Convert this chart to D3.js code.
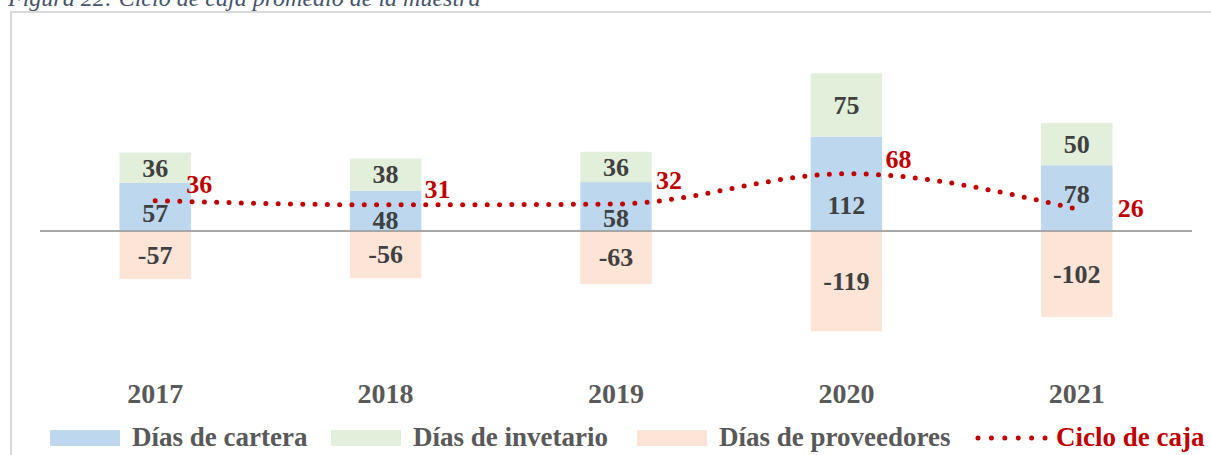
<!DOCTYPE html>
<html>
<head>
<meta charset="utf-8">
<script src="https://cdn.jsdelivr.net/npm/d3@7"></script>
<style>
  body { margin: 0; background: #fff; }
  svg { display: block; font-family: "Liberation Serif", "Times New Roman", serif; }
</style>
</head>
<body>
<script>
// datos
var years = ["2017", "2018", "2019", "2020", "2021"];
var cartera = [57, 48, 58, 112, 78];
var inventario = [36, 38, 36, 75, 50];
var proveedores = [-57, -56, -63, -119, -102];
var ciclo = [36, 31, 32, 68, 26];

var legendNames = ["Días de cartera", "Días de invetario", "Días de proveedores", "Ciclo de caja"];

// colores
var cBlue = "#BDD7EE", cGreen = "#E2EFDA", cPeach = "#FCE4D6", cRed = "#C00000";

var W = 1211, H = 455;

// pequeños ajustes manuales de las etiquetas (como en el original)
var carteraDy = [6, 9, 12, 21, -4];
var cicloLabelPos = [[31, -8], [39, -7], [40, -15], [39, -6], [41, 8]];

var svg = d3.select("body").append("svg")
    .attr("width", W)
    .attr("height", H);

// marco del grafico
svg.append("rect")
    .attr("x", 11).attr("y", 12)
    .attr("width", 1230).attr("height", 500)
    .attr("fill", "none")
    .attr("stroke", "#D9D9D9")
    .attr("stroke-width", 2);

// titulo (cortado arriba, igual que en la imagen)
svg.append("text")
    .attr("x", 8).attr("y", 6)
    .style("font-style", "italic")
    .style("font-size", "24px")
    .attr("fill", "#44546A")
    .text("Figura 22: Ciclo de caja promedio de la muestra");

var x = d3.scaleBand()
    .domain(years)
    .range([40, 1192])
    .paddingInner(0.69)
    .paddingOuter(0.345);

var y = d3.scaleLinear()
    .domain([-150, 200])
    .range([231 + 150 * 0.843, 231 - 200 * 0.843]);

var g = svg.append("g");

// barras
function bars(vals, base, color) {
  g.selectAll(null)
    .data(vals)
    .enter().append("rect")
      .attr("x", function (d, i) { return x(years[i]) })
      .attr("width", x.bandwidth())
      .attr("y", function (d, i) { var b = base ? base[i] : 0; return y(Math.max(b, b + d)) })
      .attr("height", function (d) { return Math.abs(y(0) - y(d)) })
      .attr("fill", color);
}
bars(cartera, null, cBlue);
bars(inventario, cartera, cGreen);
bars(proveedores, null, cPeach);

// linea del cero
svg.append("line")
    .attr("x1", 40).attr("x2", 1192)
    .attr("y1", y(0)).attr("y2", y(0))
    .attr("stroke", "#A6A6A6")
    .attr("stroke-width", 2);

// etiquetas de valores
function valueLabels(vals, base, dys) {
  g.selectAll(null)
    .data(vals)
    .enter().append("text")
      .attr("x", function (d, i) { return x(years[i]) + x.bandwidth() / 2 })
      .attr("y", function (d, i) {
        var b = base ? base[i] : 0;
        return (y(b) + y(b + d)) / 2 + (dys ? dys[i] : 0);
      })
      .attr("dy", "0.34em")
      .attr("text-anchor", "middle")
      .style("font-size", "26px")
      .style("font-weight", "bold")
      .attr("fill", "#404040")
      .text(function (d) { return d });
}
valueLabels(cartera, null, carteraDy);
valueLabels(inventario, cartera, null);
valueLabels(proveedores, null, null);

// linea ciclo de caja (suavizada)
var line = d3.line()
    .x(function (d, i) { return x(years[i]) + x.bandwidth() / 2 })
    .y(function (d) { return y(d) })
    .curve(d3.curveMonotoneX);

svg.append("path")
    .datum(ciclo)
    .attr("d", line)
    .attr("fill", "none")
    .attr("stroke", cRed)
    .attr("stroke-width", 5)
    .attr("stroke-linecap", "round")
    .attr("stroke-dasharray", "0 12.3");

svg.selectAll(null)
    .data(ciclo)
    .enter().append("text")
      .attr("x", function (d, i) { return x(years[i]) + x.bandwidth() / 2 + cicloLabelPos[i][0] })
      .attr("y", function (d, i) { return y(d) + cicloLabelPos[i][1] })
      .style("font-size", "26px")
      .style("font-weight", "bold")
      .attr("fill", cRed)
      .text(function (d) { return d });

// eje x (años)
svg.selectAll(null)
    .data(years)
    .enter().append("text")
      .attr("x", function (d) { return x(d) + x.bandwidth() / 2 })
      .attr("y", 403)
      .attr("text-anchor", "middle")
      .style("font-size", "28px")
      .style("font-weight", "bold")
      .attr("fill", "#595959")
      .text(function (d) { return d });

// leyenda
var legX = [50, 331, 637, 978];
var legColors = [cBlue, cGreen, cPeach, cRed];
var leg = svg.append("g");
legendNames.forEach(function (name, i) {
  if (i < 3) {
    leg.append("rect")
      .attr("x", legX[i]).attr("y", 430)
      .attr("width", 70).attr("height", 16)
      .attr("fill", legColors[i]);
  } else {
    leg.append("line")
      .attr("x1", legX[i]).attr("x2", legX[i] + 67)
      .attr("y1", 438).attr("y2", 438)
      .attr("stroke", cRed)
      .attr("stroke-width", 5)
      .attr("stroke-linecap", "round")
      .attr("stroke-dasharray", "0 13.4");
  }
  leg.append("text")
    .attr("x", legX[i] + (i < 3 ? 82 : 78))
    .attr("y", 446)
    .style("font-size", "27px")
    .style("font-weight", "bold")
    .attr("fill", i < 3 ? "#595959" : cRed)
    .text(name);
});
</script>
</body>
</html>
